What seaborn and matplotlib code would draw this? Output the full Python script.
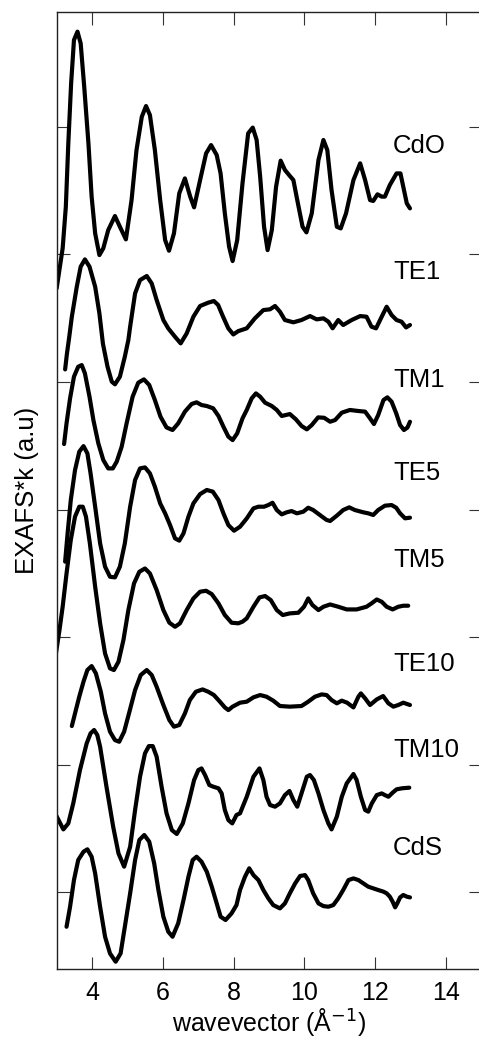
import numpy as np
import pandas as pd
import matplotlib
matplotlib.use("Agg")
import matplotlib.pyplot as plt
import seaborn as sns

# ---------------- data ----------------
cdo_k = [2.99, 3.16, 3.25, 3.32, 3.40, 3.48, 3.58, 3.67, 3.77, 3.89, 3.98, 4.08, 4.20, 4.31,
         4.45, 4.64, 4.78, 4.95, 5.11, 5.25, 5.40, 5.52, 5.63, 5.77, 5.92, 6.06, 6.17, 6.31,
         6.46, 6.62, 6.77, 6.88, 7.05, 7.22, 7.36, 7.52, 7.63, 7.75, 7.87, 7.97, 8.10, 8.25,
         8.41, 8.54, 8.65, 8.75, 8.86, 8.96, 9.08, 9.20, 9.33, 9.45, 9.59, 9.69, 9.80, 9.95,
         10.06, 10.21, 10.40, 10.54, 10.65, 10.77, 10.92, 11.03, 11.18, 11.39, 11.58, 11.72,
         11.86, 11.95, 12.07, 12.19, 12.28, 12.42, 12.61, 12.72, 12.80, 12.90, 12.99]
cdo_y = [5.734, 6.048, 6.374, 6.870, 7.341, 7.680, 7.746, 7.654, 7.315, 6.870, 6.453, 6.165,
         5.995, 6.048, 6.191, 6.301, 6.217, 6.118, 6.426, 6.818, 7.079, 7.163, 7.092, 6.818,
         6.426, 6.113, 6.029, 6.165, 6.479, 6.596, 6.453, 6.369, 6.583, 6.792, 6.857, 6.779,
         6.635, 6.322, 6.061, 5.948, 6.113, 6.557, 6.949, 6.994, 6.897, 6.609, 6.217, 6.034,
         6.191, 6.531, 6.735, 6.662, 6.615, 6.583, 6.426, 6.217, 6.173, 6.322, 6.740, 6.897,
         6.818, 6.505, 6.217, 6.204, 6.322, 6.583, 6.714, 6.583, 6.426, 6.419, 6.471, 6.453,
         6.453, 6.544, 6.635, 6.635, 6.531, 6.400, 6.361]

te1_k = [3.23, 3.28, 3.34, 3.42, 3.56, 3.67, 3.79, 3.92, 4.08, 4.20, 4.30, 4.43, 4.55, 4.64,
         4.78, 4.92, 5.02, 5.07, 5.21, 5.35, 5.54, 5.68, 5.82, 6.01, 6.15, 6.34, 6.50, 6.67,
         6.86, 7.05, 7.28, 7.44, 7.56, 7.70, 7.85, 7.99, 8.13, 8.37, 8.60, 8.84, 9.03, 9.17,
         9.31, 9.45, 9.69, 9.92, 10.16, 10.35, 10.54, 10.68, 10.80, 10.96, 11.10, 11.34,
         11.58, 11.76, 11.90, 12.03, 12.19, 12.33, 12.47, 12.61, 12.75, 12.88, 12.99]
te1_y = [5.099, 5.220, 5.340, 5.512, 5.747, 5.904, 5.961, 5.904, 5.747, 5.538, 5.300, 5.120,
         5.003, 4.982, 5.042, 5.199, 5.330, 5.434, 5.695, 5.799, 5.831, 5.773, 5.643, 5.486,
         5.420, 5.355, 5.303, 5.381, 5.512, 5.596, 5.622, 5.635, 5.604, 5.512, 5.420, 5.373,
         5.399, 5.421, 5.499, 5.564, 5.570, 5.596, 5.551, 5.486, 5.468, 5.486, 5.517, 5.491,
         5.499, 5.473, 5.421, 5.486, 5.447, 5.486, 5.517, 5.512, 5.434, 5.421, 5.512, 5.590,
         5.525, 5.486, 5.473, 5.428, 5.447]

tm1_k = [3.20, 3.27, 3.37, 3.48, 3.60, 3.70, 3.79, 3.92, 4.03, 4.17, 4.31, 4.45, 4.58, 4.69,
         4.83, 4.97, 5.14, 5.30, 5.46, 5.61, 5.77, 5.93, 6.10, 6.27, 6.43, 6.62, 6.81, 6.95,
         7.09, 7.24, 7.42, 7.57, 7.71, 7.85, 7.97, 8.10, 8.25, 8.37, 8.51, 8.63, 8.75, 8.89,
         9.08, 9.22, 9.36, 9.59, 9.76, 9.92, 10.07, 10.21, 10.39, 10.56, 10.73, 10.87, 11.06,
         11.29, 11.53, 11.72, 11.86, 11.97, 12.09, 12.24, 12.35, 12.47, 12.60, 12.71, 12.82,
         12.92, 12.99]
tm1_y = [4.514, 4.676, 4.872, 5.042, 5.120, 5.133, 5.068, 4.885, 4.702, 4.519, 4.389, 4.323,
         4.323, 4.376, 4.493, 4.676, 4.885, 4.995, 5.021, 4.977, 4.859, 4.728, 4.644, 4.624,
         4.676, 4.768, 4.828, 4.841, 4.820, 4.812, 4.794, 4.734, 4.650, 4.572, 4.545, 4.598,
         4.715, 4.781, 4.872, 4.911, 4.885, 4.838, 4.812, 4.781, 4.734, 4.749, 4.708, 4.656,
         4.629, 4.663, 4.723, 4.720, 4.689, 4.702, 4.760, 4.781, 4.773, 4.768, 4.715, 4.671,
         4.741, 4.859, 4.880, 4.846, 4.755, 4.663, 4.624, 4.644, 4.689]

te5_k = [3.23, 3.30, 3.39, 3.51, 3.63, 3.75, 3.86, 3.95, 4.08, 4.22, 4.36, 4.50, 4.64, 4.78,
         4.92, 5.07, 5.21, 5.35, 5.49, 5.63, 5.77, 5.92, 6.06, 6.20, 6.34, 6.46, 6.58, 6.72,
         6.86, 7.05, 7.24, 7.41, 7.57, 7.71, 7.85, 8.01, 8.18, 8.37, 8.56, 8.70, 8.86, 8.98,
         9.10, 9.22, 9.36, 9.50, 9.64, 9.79, 9.97, 10.11, 10.25, 10.44, 10.63, 10.73, 10.92,
         11.10, 11.27, 11.43, 11.67, 11.81, 11.95, 12.09, 12.28, 12.47, 12.60, 12.71, 12.85,
         12.99]
te5_y = [3.592, 3.814, 4.075, 4.310, 4.454, 4.498, 4.441, 4.284, 4.023, 3.736, 3.553, 3.474,
         3.469, 3.553, 3.736, 4.023, 4.232, 4.323, 4.331, 4.284, 4.180, 4.049, 3.971, 3.879,
         3.775, 3.757, 3.814, 3.945, 4.049, 4.122, 4.154, 4.141, 4.075, 3.971, 3.879, 3.835,
         3.866, 3.931, 4.010, 4.023, 4.023, 4.036, 4.054, 3.997, 3.963, 3.979, 3.989, 3.971,
         3.984, 4.015, 3.997, 3.958, 3.919, 3.911, 3.953, 3.997, 4.018, 3.997, 3.979, 3.971,
         3.958, 3.997, 4.031, 4.036, 4.015, 3.971, 3.932, 3.937]

tm5_k = [2.97, 3.07, 3.16, 3.27, 3.39, 3.51, 3.63, 3.73, 3.82, 3.93, 4.08, 4.22, 4.36, 4.50,
         4.61, 4.74, 4.88, 5.02, 5.18, 5.33, 5.49, 5.63, 5.82, 6.01, 6.18, 6.34, 6.48, 6.67,
         6.86, 7.05, 7.22, 7.38, 7.57, 7.75, 7.94, 8.13, 8.25, 8.37, 8.56, 8.73, 8.89, 9.05,
         9.22, 9.39, 9.59, 9.83, 9.99, 10.11, 10.23, 10.40, 10.54, 10.73, 10.96, 11.20, 11.48,
         11.76, 11.90, 12.05, 12.19, 12.33, 12.50, 12.66, 12.80, 12.94]
tm5_y = [2.873, 3.056, 3.239, 3.500, 3.762, 3.945, 4.023, 4.023, 3.945, 3.736, 3.396, 3.109,
         2.873, 2.756, 2.743, 2.808, 2.978, 3.213, 3.422, 3.513, 3.539, 3.500, 3.370, 3.213,
         3.114, 3.082, 3.109, 3.213, 3.304, 3.357, 3.364, 3.338, 3.265, 3.174, 3.114, 3.109,
         3.122, 3.148, 3.239, 3.312, 3.323, 3.291, 3.213, 3.174, 3.187, 3.192, 3.239, 3.304,
         3.252, 3.213, 3.239, 3.257, 3.239, 3.218, 3.218, 3.239, 3.265, 3.296, 3.278, 3.239,
         3.218, 3.239, 3.247, 3.247]

te10_k = [3.42, 3.51, 3.63, 3.75, 3.86, 3.98, 4.10, 4.24, 4.36, 4.50, 4.64, 4.76, 4.90, 5.05,
          5.21, 5.37, 5.54, 5.68, 5.82, 6.01, 6.18, 6.31, 6.46, 6.62, 6.76, 6.93, 7.12, 7.28,
          7.44, 7.61, 7.75, 7.85, 7.97, 8.18, 8.37, 8.56, 8.75, 8.93, 9.12, 9.31, 9.59, 9.92,
          10.11, 10.30, 10.49, 10.63, 10.77, 10.92, 11.06, 11.21, 11.39, 11.53, 11.60, 11.72,
          11.86, 12.05, 12.23, 12.38, 12.52, 12.66, 12.80, 12.99]
te10_y = [2.304, 2.403, 2.534, 2.652, 2.743, 2.774, 2.717, 2.573, 2.403, 2.260, 2.194, 2.181,
          2.260, 2.416, 2.586, 2.704, 2.743, 2.704, 2.612, 2.469, 2.351, 2.299, 2.312, 2.403,
          2.508, 2.573, 2.591, 2.573, 2.547, 2.495, 2.450, 2.429, 2.456, 2.487, 2.495, 2.529,
          2.547, 2.534, 2.503, 2.461, 2.456, 2.461, 2.495, 2.534, 2.552, 2.547, 2.508, 2.482,
          2.503, 2.487, 2.450, 2.534, 2.560, 2.521, 2.469, 2.513, 2.539, 2.482, 2.456, 2.469,
          2.487, 2.469]

tm10_k = [2.97, 3.18, 3.32, 3.46, 3.65, 3.84, 3.95, 4.05, 4.14, 4.22, 4.40, 4.59, 4.74, 4.90,
          5.07, 5.21, 5.35, 5.49, 5.60, 5.71, 5.82, 5.96, 6.10, 6.25, 6.39, 6.56, 6.72, 6.88,
          7.00, 7.09, 7.19, 7.31, 7.42, 7.57, 7.66, 7.75, 7.85, 7.96, 8.08, 8.18, 8.37, 8.56,
          8.73, 8.84, 8.93, 9.03, 9.17, 9.31, 9.45, 9.58, 9.69, 9.80, 9.92, 10.07, 10.16, 10.27,
          10.40, 10.54, 10.68, 10.77, 10.92, 11.06, 11.20, 11.39, 11.48, 11.60, 11.72, 11.81,
          11.91, 12.05, 12.19, 12.28, 12.38, 12.50, 12.61, 12.76, 12.97]
tm10_y = [1.607, 1.494, 1.541, 1.698, 1.959, 2.168, 2.247, 2.273, 2.234, 2.142, 1.829, 1.515,
          1.306, 1.202, 1.358, 1.646, 1.907, 2.090, 2.147, 2.147, 2.064, 1.829, 1.620, 1.489,
          1.458, 1.541, 1.698, 1.881, 1.959, 1.972, 1.920, 1.842, 1.829, 1.816, 1.776, 1.646,
          1.567, 1.541, 1.607, 1.620, 1.750, 1.907, 1.972, 1.881, 1.750, 1.685, 1.672, 1.698,
          1.763, 1.795, 1.724, 1.672, 1.776, 1.907, 1.920, 1.881, 1.776, 1.646, 1.541, 1.494,
          1.594, 1.750, 1.855, 1.928, 1.881, 1.750, 1.646, 1.633, 1.698, 1.763, 1.776, 1.763,
          1.750, 1.782, 1.808, 1.816, 1.821]

cds_k = [3.27, 3.37, 3.48, 3.60, 3.75, 3.86, 3.98, 4.08, 4.22, 4.36, 4.50, 4.66, 4.80, 4.92,
         5.07, 5.21, 5.33, 5.47, 5.61, 5.75, 5.87, 6.01, 6.15, 6.27, 6.43, 6.58, 6.72, 6.84,
         6.95, 7.09, 7.24, 7.38, 7.52, 7.63, 7.77, 7.94, 8.08, 8.18, 8.32, 8.44, 8.56, 8.70,
         8.84, 8.98, 9.12, 9.31, 9.45, 9.59, 9.74, 9.88, 10.02, 10.11, 10.25, 10.40, 10.54,
         10.68, 10.82, 10.96, 11.10, 11.25, 11.39, 11.53, 11.67, 11.81, 11.95, 12.09, 12.24,
         12.33, 12.42, 12.50, 12.57, 12.63, 12.71, 12.80, 12.90, 12.99]
cds_y = [0.731, 0.888, 1.097, 1.254, 1.319, 1.338, 1.280, 1.149, 0.888, 0.653, 0.522, 0.457,
         0.522, 0.731, 0.993, 1.254, 1.411, 1.450, 1.398, 1.228, 1.019, 0.810, 0.692, 0.653,
         0.758, 0.940, 1.123, 1.254, 1.280, 1.241, 1.162, 1.045, 0.914, 0.810, 0.784, 0.836,
         0.901, 1.019, 1.123, 1.189, 1.136, 1.097, 1.019, 0.954, 0.901, 0.875, 0.914, 0.993,
         1.071, 1.129, 1.136, 1.097, 0.993, 0.914, 0.893, 0.888, 0.901, 0.954, 1.019, 1.097,
         1.110, 1.097, 1.071, 1.045, 1.032, 1.019, 1.006, 0.993, 0.967, 0.927, 0.883, 0.914,
         0.961, 0.980, 0.967, 0.961]

sample_names = ["CdO", "TE1", "TM1", "TE5", "TM5", "TE10", "TM10", "CdS"]
label_y = [6.85, 5.86, 5.016, 4.287, 3.605, 2.79, 2.116, 1.348]
label_x = 12.51
x_ticks = [4, 6, 8, 10, 12, 14]
y_ticks = [1, 2, 3, 4, 5, 6, 7]

curves = {
    "CdO": (cdo_k, cdo_y), "TE1": (te1_k, te1_y), "TM1": (tm1_k, tm1_y),
    "TE5": (te5_k, te5_y), "TM5": (tm5_k, tm5_y), "TE10": (te10_k, te10_y),
    "TM10": (tm10_k, tm10_y), "CdS": (cds_k, cds_y),
}
df = pd.concat(
    [pd.DataFrame({"k": k, "chi": y, "sample": name}) for name, (k, y) in curves.items()],
    ignore_index=True,
)

# ---------------- plot ----------------
sns.set_theme(style="ticks")
plt.rcParams["font.family"] = ["Liberation Sans", "DejaVu Sans"]
plt.rcParams["text.color"] = "black"
plt.rcParams["axes.labelcolor"] = "black"
plt.rcParams["xtick.color"] = "black"
plt.rcParams["ytick.color"] = "black"

fig = plt.figure(figsize=(4.79, 10.43), dpi=100)
ax = fig.add_axes([57 / 479, 74 / 1043, 424 / 479, 957 / 1043])

sns.lineplot(data=df, x="k", y="chi", units="sample", estimator=None, sort=False,
             color="black", lw=3.0, ax=ax, legend=False)
for line in ax.get_lines():
    line.set_solid_joinstyle("round")
    line.set_solid_capstyle("round")

for name, ly in zip(sample_names, label_y):
    ax.text(label_x, ly, name, ha="left", va="center", fontsize=18.5, color="black")

ax.set_xlim(3, 15)
ax.set_ylim(0.4, 7.9)
ax.set_xticks(x_ticks)
ax.set_xticklabels([str(t) for t in x_ticks])
ax.set_yticks(y_ticks)
ax.set_yticklabels([])
ax.tick_params(axis="both", direction="in", length=9, width=0.8, color="#333333",
               labelcolor="black", top=True, right=True, labelsize=18, pad=9)
for s in ax.spines.values():
    s.set_linewidth(1.0)
    s.set_color("#222222")

ax.set_xlabel("wavevector (Å$^{-1}$)", fontsize=18, labelpad=0, color="black")
ax.set_ylabel("EXAFS*k (a.u)", fontsize=18.5, labelpad=4, color="black")

fig.savefig("out.png", dpi=100)
